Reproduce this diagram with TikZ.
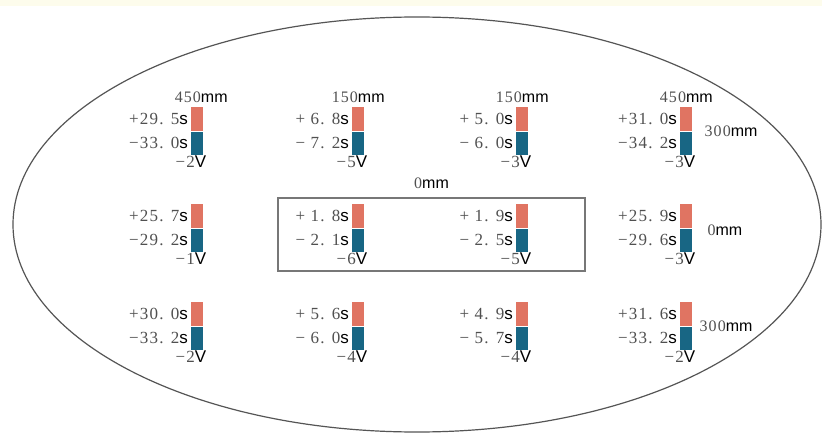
\documentclass[tikz,border=0pt]{standalone}
\usepackage{fontspec}
\setmainfont{Liberation Sans}
\newfontfamily\numfont[LetterSpace=7]{Liberation Serif}
\usetikzlibrary{positioning}
\definecolor{barred}{RGB}{224,116,98}
\definecolor{barblue}{RGB}{24,102,132}
\definecolor{numgray}{RGB}{80,80,80}
\definecolor{edgegray}{RGB}{85,85,85}
\definecolor{topcream}{RGB}{253,252,236}

\begin{document}
\begin{tikzpicture}[x=1pt,y=-1pt,
    hot/.style={rectangle,fill=barred,minimum width=12pt,minimum height=24pt,inner sep=0pt,anchor=north west},
    cold/.style={rectangle,fill=barblue,minimum width=12pt,minimum height=23pt,inner sep=0pt,anchor=north},
    val/.style={inner sep=0pt,font=\fontsize{17}{17}\selectfont},
    dist/.style={inner sep=0pt,font=\fontsize{16}{16}\selectfont}]

      \fill[white] (0,0) rectangle (822,433);
      \fill[topcream] (0,0) rectangle (822,6);
      \useasboundingbox (0,0) rectangle (822,433);

      \draw[edgegray,line width=1.2pt] (417,224.5) ellipse [x radius=404, y radius=207.5];

      \node[draw=edgegray!80,line width=1.4pt,minimum width=307pt,minimum height=73pt,inner sep=0pt] (zone) at (431.5,234.5) {};
      \node[dist,above=8pt of zone] (zonelbl) {{\numfont\color{numgray}0}mm};

      \foreach \x/\y/\p/\m/\v [count=\i] in {
          191/107/{+29. 5}/{−33. 0}/{−2}, 352/107/{+ 6. 8}/{− 7. 2}/{−5},
          516/107/{+ 5. 0}/{− 6. 0}/{−3}, 680/107/{+31. 0}/{−34. 2}/{−3},
          191/204/{+25. 7}/{−29. 2}/{−1}, 352/204/{+ 1. 8}/{− 2. 1}/{−6},
          516/204/{+ 1. 9}/{− 2. 5}/{−5}, 680/204/{+25. 9}/{−29. 6}/{−3},
          191/302/{+30. 0}/{−33. 2}/{−2}, 352/302/{+ 5. 6}/{− 6. 0}/{−4},
          516/302/{+ 4. 9}/{− 5. 7}/{−4}, 680/302/{+31. 6}/{−33. 2}/{−2}}{
        \node[hot] (up\i) at (\x,\y) {};
        \node[cold] (dn\i) at (up\i.south) {};
        \node[val,left=3pt of up\i] (p\i) {{\numfont\color{numgray}\p}s};
        \node[val,left=3pt of dn\i] (m\i) {{\numfont\color{numgray}\m}s};
        \node[val,below left=1pt and -3pt of dn\i.south east] (v\i) {{\numfont\color{numgray}\v}V};
      }

      \node[dist,above=4pt of up1,xshift=4pt] (top1) {{\numfont\color{numgray}450}mm};
      \node[dist,above=4pt of up2] (top2) {{\numfont\color{numgray}150}mm};
      \node[dist,above=4pt of up3] (top3) {{\numfont\color{numgray}150}mm};
      \node[dist,above=4pt of up4] (top4) {{\numfont\color{numgray}450}mm};

      \node[dist,right=12pt of up4.south east] (side1) {{\numfont\color{numgray}300}mm};
      \node[dist,right=15pt of up8.south east,yshift=-2pt] (side2) {{\numfont\color{numgray}0}mm};
      \node[dist,right=7pt of up12.south east] (side3) {{\numfont\color{numgray}300}mm};
    \end{tikzpicture}
\end{document}
